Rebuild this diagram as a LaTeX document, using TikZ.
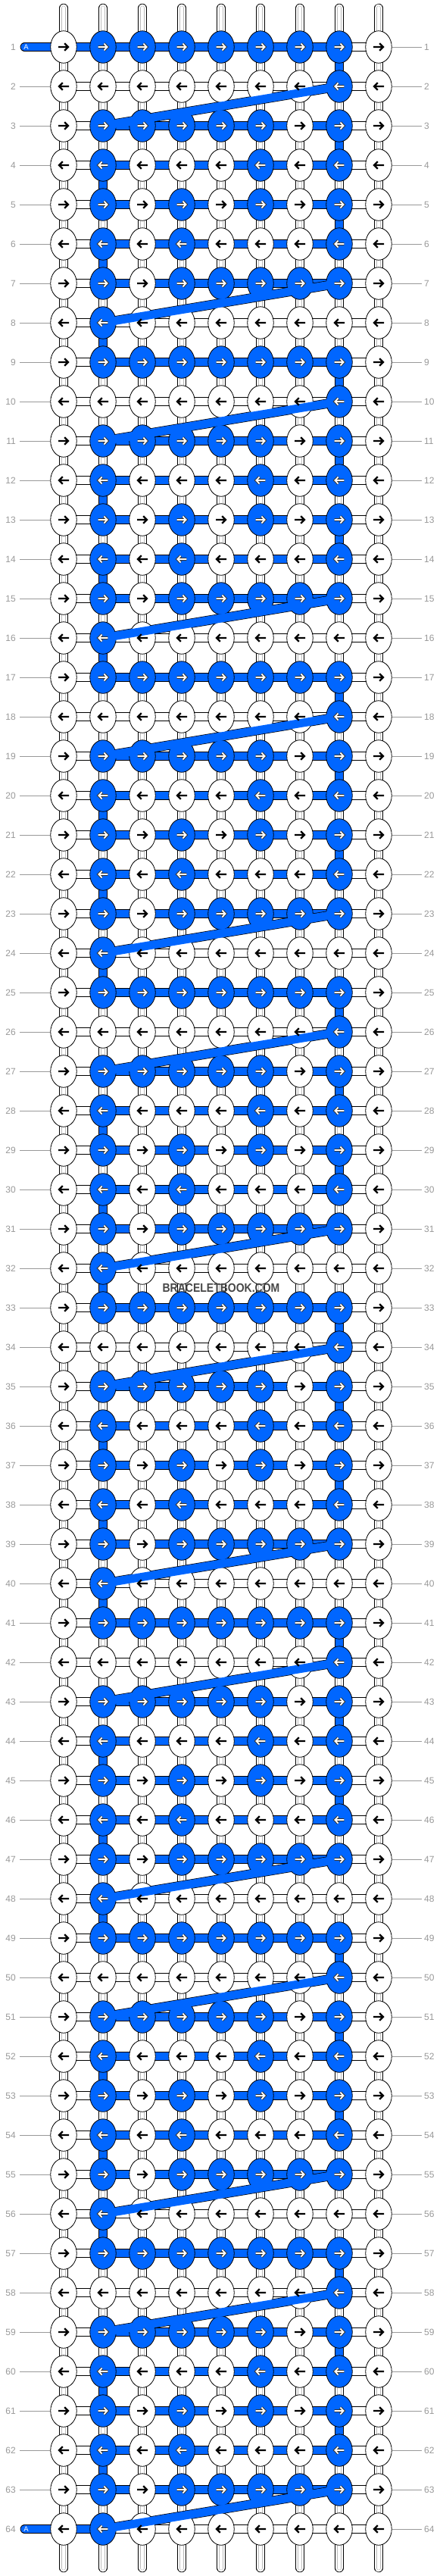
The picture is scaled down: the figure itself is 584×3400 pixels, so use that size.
\documentclass[tikz,border=0pt]{standalone}
\usepackage{fontspec}
\setmainfont{Liberation Sans}
\usetikzlibrary{shapes.geometric,calc}
\definecolor{bb}{HTML}{0066FF}
\definecolor{lbl}{HTML}{999999}
\definecolor{innerg}{HTML}{BBBBBB}
\pgfdeclarelayer{bg}
\pgfdeclarelayer{diag}
\pgfdeclarelayer{top}
\pgfsetlayers{bg,main,diag,top}
\tikzset{
  knotw/.style={ellipse,draw=black,line width=0.8,fill=white,minimum width=34.5,minimum height=42.5,inner sep=0},
  knotb/.style={knotw,fill=bb},
  wbox/.style={draw=black,line width=0.7,double=white,double distance=10},
  bband/.style={draw=black,line width=0.7,double=bb,double distance=10.4},
  gline/.style={draw=innerg,line width=0.6,double=white,double distance=4.6},
  lblline/.style={draw=lbl,line width=0.8},
  lbltext/.style={text=lbl,inner sep=0,font=\fontsize{12}{14}\selectfont},
  arrw/.style={line width=2.3,line join=miter},
  arrbo/.style={line width=3.9,line join=miter,line cap=square,black!80},
  arrbi/.style={line width=1.8,line join=miter,white}
}
\begin{document}
\begin{tikzpicture}[x=1pt,y=-1pt]
\begin{pgfonlayer}{bg}
\fill[white] (0,0) rectangle (584,3400);
\end{pgfonlayer}
\useasboundingbox (0,0) rectangle (584,3400);

% knots
\foreach \ri in {1,...,64}{
  \pgfmathtruncatemacro\tp{\ri==1 ? 7 : mod(\ri-2,8)}
  \pgfmathtruncatemacro\mk{{128,190,162,170,138,250,2,254}[\tp]}
  \foreach \ci in {1,...,9}{
    \pgfmathtruncatemacro\bl{mod(floor(\mk/2^(\ci-1)),2)}
    \ifnum\bl=1
      \node[knotb] (n-\ri-\ci) at ({32+52*\ci},{10+52*\ri}) {};
    \else
      \node[knotw] (n-\ri-\ci) at ({32+52*\ci},{10+52*\ri}) {};
    \fi
  }
}

% connectors
\begin{pgfonlayer}{bg}
\foreach \ci in {1,...,9}{
  \coordinate (st-\ci) at ({32+52*\ci},10.5);
  \coordinate (sb-\ci) at ({32+52*\ci},3389.5);
  \draw[wbox,line cap=round] (st-\ci) -- (n-1-\ci.center);
  \draw[gline,line cap=round] (st-\ci) -- (n-1-\ci.center);
  \draw[wbox,line cap=round] (sb-\ci) -- (n-64-\ci.center);
  \draw[gline,line cap=round] (sb-\ci) -- (n-64-\ci.center);
}
\coordinate (a1) at (32.5,62);
\coordinate (a64) at (32.5,3338);
\draw[bband,line cap=round] (a1) -- (n-1-1.center);
\draw[bband,line cap=round] (a64) -- (n-64-1.center);
\foreach \ri in {1,...,64}{
  \pgfmathtruncatemacro\tp{\ri==1 ? 7 : mod(\ri-2,8)}
  \pgfmathtruncatemacro\hb{{0,1,1,1,1,1,0,1}[\tp]}
  \pgfmathtruncatemacro\vc{{0,8,2,8,2,0,2,8}[\tp]}
  \pgfmathtruncatemacro\rn{\ri+1}
  \foreach \ci in {1,...,8}{
    \pgfmathtruncatemacro\cn{\ci+1}
    \pgfmathtruncatemacro\isb{(\hb==1 && \ci>=2 && \ci<=7) || ((\ri==1 || \ri==64) && \ci==1)}
    \ifnum\isb=1
      \draw[bband] (n-\ri-\ci.center) -- (n-\ri-\cn.center);
    \else
      \draw[wbox] (n-\ri-\ci.center) -- (n-\ri-\cn.center);
    \fi
  }
  \ifnum\ri<64
    \foreach \ci in {1,...,9}{
      \ifnum\ci=\vc
        \draw[bband] (n-\ri-\ci.center) -- (n-\rn-\ci.center);
      \else
        \draw[wbox] (n-\ri-\ci.center) -- (n-\rn-\ci.center);
        \draw[gline] (n-\ri-\ci.center) -- (n-\rn-\ci.center);
      \fi
    }
    \ifnum\vc=0
      \draw[black,line width=12.4] (n-\ri-8.center) -- (n-\rn-2.center);
    \fi
  \fi
  \pgfmathtruncatemacro\yy{10+52*\ri}
  \ifnum\ri>1\ifnum\ri<64
    \draw[lblline] (26,\yy) -- (n-\ri-1.west);
  \fi\fi
  \draw[lblline] (n-\ri-9.east) -- (557,\yy);
}
\end{pgfonlayer}

% diagonal passes
\begin{pgfonlayer}{diag}
\foreach \ri in {1,...,63}{
  \pgfmathtruncatemacro\tp{\ri==1 ? 7 : mod(\ri-2,8)}
  \pgfmathtruncatemacro\vc{{0,8,2,8,2,0,2,8}[\tp]}
  \pgfmathtruncatemacro\rn{\ri+1}
  \ifnum\vc=0
    \draw[bb,line width=11] ($(n-\ri-8.center)!12pt!(n-\rn-2.center)$) -- ($(n-\rn-2.center)!12pt!(n-\ri-8.center)$);
  \fi
}
\end{pgfonlayer}

% arrows and labels
\begin{pgfonlayer}{top}
\foreach \ri in {1,...,64}{
  \pgfmathtruncatemacro\tp{\ri==1 ? 7 : mod(\ri-2,8)}
  \pgfmathtruncatemacro\mk{{128,190,162,170,138,250,2,254}[\tp]}
  \pgfmathtruncatemacro\dir{mod(\ri,2)==1 ? 1 : -1}
  \foreach \ci in {1,...,9}{
    \pgfmathtruncatemacro\bl{mod(floor(\mk/2^(\ci-1)),2)}
    \begin{scope}[shift={(n-\ri-\ci.center)},xscale=\dir]
    \ifnum\bl=1
      \draw[arrbo] (-6.3,0) -- (5,0) (1.4,-4.4) -- (5.6,0) -- (1.4,4.4);
      \draw[arrbi] (-6.3,0) -- (5,0) (1.4,-4.4) -- (5.6,0) -- (1.4,4.4);
    \else
      \draw[arrw] (-7,0) -- (5,0) (1.2,-4.8) -- (6,0) -- (1.2,4.8);
    \fi
    \end{scope}
  }
  \pgfmathtruncatemacro\yy{10+52*\ri}
  \node[lbltext,anchor=east] (ll-\ri) at (21,\yy) {\ri};
  \node[lbltext,anchor=west] (lr-\ri) at (560,\yy) {\ri};
}
\node[text=white,inner sep=0,font=\fontsize{9.5}{10}\selectfont] (la1) at (34.5,62) {A};
\node[text=white,inner sep=0,font=\fontsize{9.5}{10}\selectfont] (la64) at (34.5,3338) {A};
\node[inner sep=0,text=black!72,font=\bfseries\fontsize{14}{16}\selectfont] (wm) at (292,1700) {\scalebox{1}[1.15]{BRACELETBOOK.COM}};
\end{pgfonlayer}
\end{tikzpicture}
\end{document}
